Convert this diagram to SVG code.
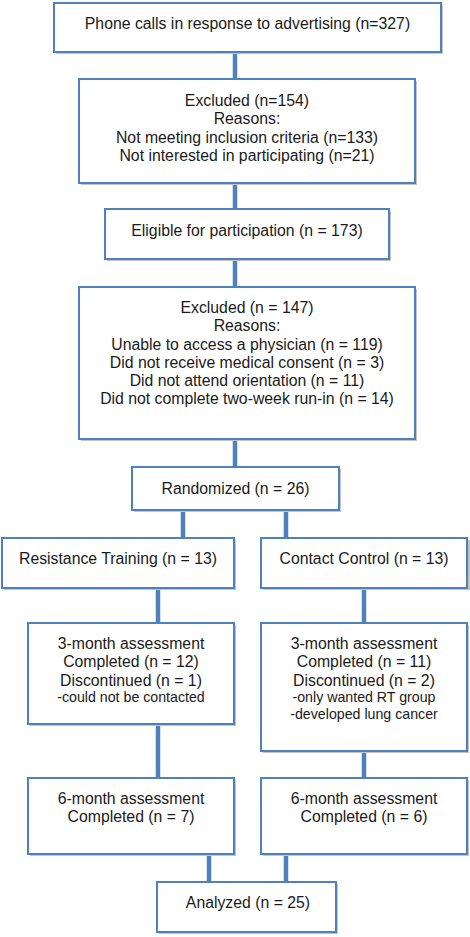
<svg xmlns="http://www.w3.org/2000/svg" width="470" height="937" viewBox="0 0 470 937">
<style>
.sh{fill:#c4c4c4;}
.bx{fill:#fff;stroke:#4F81BD;stroke-width:2;}
.cn{stroke:#4F81BD;stroke-width:4.5;fill:none;}
text{font-family:"Liberation Sans",Arial,sans-serif;font-size:15.8px;fill:#1a1a1a;text-anchor:middle;}
.sm{font-size:14.2px;}
</style>
<rect width="470" height="937" fill="#fff"/>
<g id="connectors">
<line class="cn" x1="235" y1="52" x2="235" y2="79"/>
<line class="cn" x1="235" y1="183" x2="235" y2="209"/>
<line class="cn" x1="235" y1="259" x2="235" y2="287"/>
<line class="cn" x1="235" y1="439" x2="235" y2="467"/>
<line class="cn" x1="183" y1="510" x2="183" y2="538"/>
<line class="cn" x1="286" y1="510" x2="286" y2="538"/>
<line class="cn" x1="158" y1="588" x2="158" y2="623"/>
<line class="cn" x1="364" y1="588" x2="364" y2="623"/>
<line class="cn" x1="158" y1="724" x2="158" y2="778"/>
<line class="cn" x1="364" y1="751" x2="364" y2="778"/>
<line class="cn" x1="209" y1="854" x2="209" y2="882"/>
<line class="cn" x1="286" y1="854" x2="286" y2="882"/>
</g>
<g id="n1">
<rect class="sh" x="56" y="5" width="387" height="49"/>
<rect class="bx" x="54" y="3" width="387" height="49"/>
<text x="247.5" y="29">Phone calls in response to advertising (n=327)</text>
</g>
<g id="n2">
<rect class="sh" x="81" y="81" width="336" height="104"/>
<rect class="bx" x="79" y="79" width="336" height="104"/>
<text x="247" y="105.5">Excluded (n=154)</text>
<text x="247" y="124">Reasons:</text>
<text x="247" y="142.5">Not meeting inclusion criteria (n=133)</text>
<text x="247" y="161">Not interested in participating (n=21)</text>
</g>
<g id="n3">
<rect class="sh" x="107" y="211" width="284" height="50"/>
<rect class="bx" x="105" y="209" width="284" height="50"/>
<text x="247" y="235.5">Eligible for participation (n = 173)</text>
</g>
<g id="n4">
<rect class="sh" x="81" y="289" width="336" height="152"/>
<rect class="bx" x="79" y="287" width="336" height="152"/>
<text x="247" y="312.5">Excluded (n = 147)</text>
<text x="247" y="331">Reasons:</text>
<text x="247" y="349.5">Unable to access a physician (n = 119)</text>
<text x="247" y="367.5">Did not receive medical consent (n = 3)</text>
<text x="247" y="385.5">Did not attend orientation (n = 11)</text>
<text x="247" y="403.5">Did not complete two-week run-in (n = 14)</text>
</g>
<g id="n5">
<rect class="sh" x="134" y="469" width="207" height="43"/>
<rect class="bx" x="132" y="467" width="207" height="43"/>
<text x="235.5" y="493.5">Randomized (n = 26)</text>
</g>
<g id="n6">
<rect class="sh" x="4" y="540" width="232" height="50"/>
<rect class="bx" x="2" y="538" width="232" height="50"/>
<text x="118" y="563.5">Resistance Training (n = 13)</text>
</g>
<g id="n7">
<rect class="sh" x="263" y="540" width="207" height="50"/>
<rect class="bx" x="261" y="538" width="206" height="50"/>
<text x="364" y="563.5">Contact Control (n = 13)</text>
</g>
<g id="n8">
<rect class="sh" x="30" y="625" width="206" height="101"/>
<rect class="bx" x="28" y="623" width="206" height="101"/>
<text x="131" y="648.5">3-month assessment</text>
<text x="131" y="667">Completed (n = 12)</text>
<text x="131" y="685.5">Discontinued (n = 1)</text>
<text class="sm" x="131" y="702">-could not be contacted</text>
</g>
<g id="n9">
<rect class="sh" x="263" y="625" width="206" height="128"/>
<rect class="bx" x="261" y="623" width="206" height="128"/>
<text x="364" y="648.5">3-month assessment</text>
<text x="364" y="667">Completed (n = 11)</text>
<text x="364" y="685.5">Discontinued (n = 2)</text>
<text class="sm" x="364" y="702">-only wanted RT group</text>
<text class="sm" x="364" y="719">-developed lung cancer</text>
</g>
<g id="n10">
<rect class="sh" x="30" y="780" width="206" height="76"/>
<rect class="bx" x="28" y="778" width="206" height="76"/>
<text x="131" y="803.5">6-month assessment</text>
<text x="131" y="822">Completed (n = 7)</text>
</g>
<g id="n11">
<rect class="sh" x="263" y="780" width="206" height="76"/>
<rect class="bx" x="261" y="778" width="206" height="76"/>
<text x="364" y="803.5">6-month assessment</text>
<text x="364" y="822">Completed (n = 6)</text>
</g>
<g id="n12">
<rect class="sh" x="159" y="884" width="179" height="50"/>
<rect class="bx" x="157" y="882" width="179" height="50"/>
<text x="248" y="907.5">Analyzed (n = 25)</text>
</g>
</svg>
